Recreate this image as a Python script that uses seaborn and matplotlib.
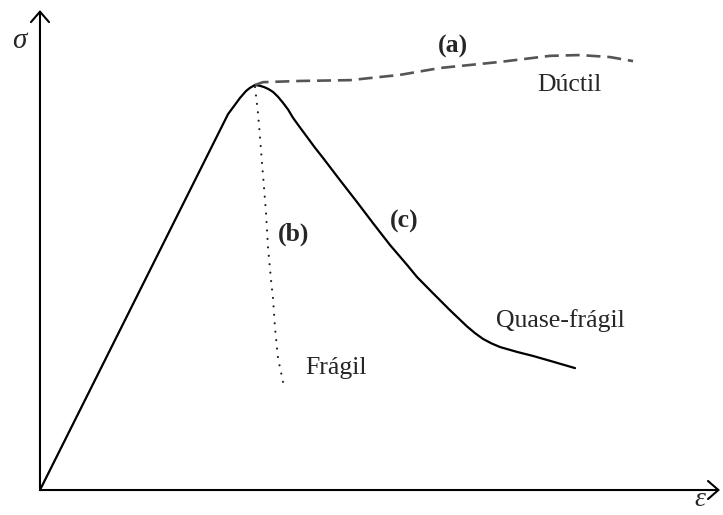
import matplotlib
matplotlib.use("Agg")
import matplotlib.pyplot as plt
import seaborn as sns
import pandas as pd

# Schematic stress-strain responses (normalised stress, arbitrary strain units)
rise_eps = [0.0, 2.765, 2.853, 2.941, 3.029, 3.088, 3.162]
rise_sig = [0.0, 0.928, 0.948, 0.968, 0.985, 0.993, 1.000]

ductile_eps = [3.162, 3.279, 3.824, 4.559, 5.294, 5.882, 6.765, 7.500, 7.941, 8.382, 8.721]
ductile_sig = [1.000, 1.007, 1.010, 1.012, 1.025, 1.042, 1.057, 1.072, 1.074, 1.069, 1.059]

brittle_eps = [3.162, 3.206, 3.235, 3.265, 3.294, 3.324, 3.353, 3.397, 3.426, 3.456, 3.500, 3.574]
brittle_sig = [0.995, 0.931, 0.872, 0.807, 0.748, 0.684, 0.600, 0.519, 0.474, 0.400, 0.326, 0.267]

quasi_eps = [3.162, 3.235, 3.294, 3.360, 3.426, 3.500, 3.574, 3.650, 3.721, 3.820, 3.926,
             4.040, 4.162, 4.412, 4.662, 4.897, 5.147, 5.397, 5.544, 5.779, 6.029,
             6.279, 6.400, 6.515, 6.640, 6.765, 7.015, 7.250, 7.500, 7.868]
quasi_sig = [1.000, 0.998, 0.995, 0.990, 0.983, 0.971, 0.956, 0.939, 0.919, 0.896, 0.872,
             0.846, 0.820, 0.765, 0.711, 0.659, 0.605, 0.556, 0.526, 0.486, 0.444,
             0.404, 0.387, 0.373, 0.362, 0.353, 0.341, 0.331, 0.319, 0.301]

labels = ["(a)", "Dúctil", "(b)", "(c)", "Quase-frágil", "Frágil"]

sns.set_theme(style="white")
plt.rcParams["font.family"] = ["Liberation Serif", "DejaVu Serif"]

fig = plt.figure(figsize=(7.23, 5.15), dpi=100)
ax = fig.add_axes([0, 0, 1, 1])
ax.set_xlim(-0.588, 10.044)
ax.set_ylim(-0.0617, 1.2099)
ax.axis("off")

def curve(eps, sig, **kw):
    df = pd.DataFrame({"eps": eps, "sig": sig})
    sns.lineplot(data=df, x="eps", y="sig", sort=False, estimator=None, ax=ax, **kw)

curve(rise_eps, rise_sig, color="black", lw=1.6, solid_capstyle="round", solid_joinstyle="round")
curve(quasi_eps, quasi_sig, color="black", lw=1.6, solid_capstyle="round", solid_joinstyle="round")
curve(ductile_eps, ductile_sig, color="#555555", lw=1.9, linestyle=(0, (5.3, 2.6)))
curve(brittle_eps, brittle_sig, color="#222222", lw=1.6, linestyle=(0, (0.01, 3.8)),
      dash_capstyle="round")

# Axes with open arrow heads
arrow = dict(arrowstyle="->,head_length=0.75,head_width=0.65", lw=1.5, color="black",
             shrinkA=0, shrinkB=0, mutation_scale=10)
ax.annotate("", xy=(0, 1.185), xytext=(0, 0), arrowprops=arrow)
ax.annotate("", xy=(10.0, 0), xytext=(0, 0), arrowprops=arrow)

ax.text(-0.41, 1.091, "σ", fontsize=21, fontstyle="italic", ha="left", va="baseline")
ax.text(9.62, -0.040, "ε", fontsize=20, fontstyle="italic", ha="left", va="baseline")

fs = 18.5
ax.text(5.853, 1.079, labels[0], fontsize=fs, fontweight="bold", ha="left", va="baseline")
ax.text(7.309, 0.985, labels[1], fontsize=fs, ha="left", va="baseline")
ax.text(3.500, 0.615, labels[2], fontsize=fs, fontweight="bold", ha="left", va="baseline")
ax.text(5.147, 0.649, labels[3], fontsize=fs, fontweight="bold", ha="left", va="baseline")
ax.text(6.706, 0.402, labels[4], fontsize=fs, ha="left", va="baseline")
ax.text(3.897, 0.286, labels[5], fontsize=fs, ha="left", va="baseline")

fig.savefig("out.png", dpi=100)
